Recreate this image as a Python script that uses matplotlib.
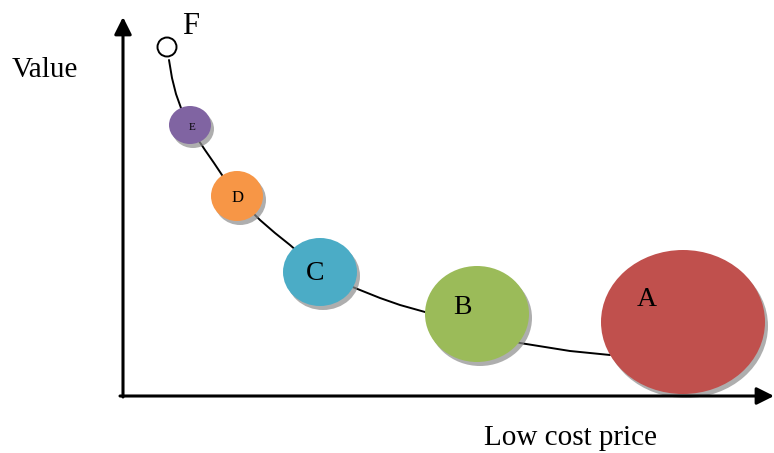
import matplotlib.pyplot as plt
from matplotlib.patches import Ellipse, Circle

plt.rcParams['font.family'] = ['Liberation Serif', 'DejaVu Serif']

# bubbles: label, centre x, centre y, half width, half height, colour, label offset, font size
labels = ['A', 'B', 'C', 'D', 'E']
cx = [683, 477, 320, 237, 190]
cy = [322, 314, 272, 196, 125]
rx = [82, 52, 37, 26, 21]
ry = [72, 48, 34, 25, 19]
colors = ['#C0504D', '#9BBB59', '#4BACC6', '#F79646', '#8064A2']
label_x = [647, 462, 315, 238, 192]
label_y = [300, 308, 274, 198, 128]
label_size = [20, 20, 20, 12, 8]

# trade-off curve traced from F down to A
curve_x = [169, 172, 176, 181, 186, 190, 197, 205, 214, 222, 230, 237, 248, 260,
           275, 290, 305, 318, 338, 360, 380, 400, 425, 450, 477, 500, 520, 545,
           570, 590, 610]
curve_y = [60, 78, 94, 108, 118, 126, 138, 150, 163, 175, 186, 196, 208, 220,
           233, 245, 258, 270, 281, 290, 298, 305, 312, 320, 328, 336, 343, 347,
           351, 353, 355]

fig = plt.figure(figsize=(7.74, 4.53), dpi=100)
ax = fig.add_axes([0, 0, 1, 1])
ax.set_xlim(0, 774)
ax.set_ylim(453, 0)
ax.axis('off')

ax.plot(curve_x, curve_y, color='black', lw=1.4, zorder=1,
        solid_capstyle='round', solid_joinstyle='round')

for i in range(len(labels)):
    shadow = Ellipse((cx[i] + 3, cy[i] + 4), 2 * rx[i], 2 * ry[i],
                     facecolor='#8c8c8c', alpha=0.7, edgecolor='none', zorder=2)
    ax.add_patch(shadow)
    bubble = Ellipse((cx[i], cy[i]), 2 * rx[i], 2 * ry[i],
                     facecolor=colors[i], edgecolor='none', zorder=3)
    ax.add_patch(bubble)
    ax.text(label_x[i], label_y[i], labels[i], fontsize=label_size[i],
            ha='center', va='center', zorder=4)

# point F
ax.add_patch(Circle((167, 47), 9.5, facecolor='white', edgecolor='black',
                    lw=1.4, zorder=3))
ax.text(191, 27, 'F', fontsize=22, ha='center', va='center')

# axes with arrow heads
ax.annotate('', xy=(123, 17), xytext=(123, 397), annotation_clip=False,
            arrowprops=dict(arrowstyle='-|>', lw=2.2, color='black',
                            mutation_scale=26, shrinkA=0, shrinkB=0), zorder=5)
ax.annotate('', xy=(774, 396), xytext=(120, 396), annotation_clip=False,
            arrowprops=dict(arrowstyle='-|>', lw=2.2, color='black',
                            mutation_scale=26, shrinkA=0, shrinkB=0), zorder=5)

ax.text(45, 70, 'Value', fontsize=21, ha='center', va='center')
ax.text(570, 438, 'Low cost price', fontsize=21, ha='center', va='center')

fig.savefig('out.png', dpi=100)
